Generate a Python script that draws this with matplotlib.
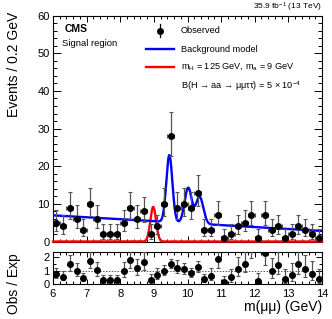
import math
import numpy as np
import matplotlib
matplotlib.use("Agg")
import matplotlib.pyplot as plt
from matplotlib.ticker import MultipleLocator

plt.rcParams["font.family"] = ["Liberation Sans", "DejaVu Sans"]
plt.rcParams["mathtext.default"] = "regular"

# ---------------- data ----------------
mass_lo, mass_hi, n_bins = 6.0, 14.0, 40
observed = [5, 4, 9, 6, 3, 10, 6, 2, 2, 2,
            5, 9, 6, 8, 2, 4, 10, 28, 9, 10,
            9, 13, 3, 3, 7, 1, 2, 4, 5, 7,
            1, 7, 3, 4, 1, 2, 4, 3, 2, 1]
ratio = [0.73, 0.55, 1.48, 0.98, 0.43, 1.75, 1.05, 0.30, 0.30, 0.30,
         0.98, 1.80, 1.18, 1.63, 0.33, 0.68, 1.00, 1.50, 1.23, 1.13,
         0.80, 1.28, 0.38, 0.60, 1.85, 0.18, 0.50, 1.13, 1.53, 3.10,
         0.25, 2.30, 0.98, 1.40, 0.35, 0.68, 1.48, 1.10, 0.75, 0.35]

# background model: linear continuum + three Upsilon peaks
continuum_at_lo, continuum_at_hi = 6.95, 2.8
ups_mass = [9.46, 10.02, 10.36]
ups_height = [17.8, 9.4, 7.2]
ups_sigma = [0.09, 0.105, 0.11]
# signal model
sig_mass, sig_height, sig_sigma = 8.98, 9.2, 0.085

# ---------------- helpers ----------------
def pois_cdf(n, mu):
    s, term = 0.0, math.exp(-mu)
    for k in range(n + 1):
        if k > 0:
            term *= mu / k
        s += term
    return s

def garwood(n, a=0.158655):
    def solve(f, lo, hi):
        for _ in range(80):
            mid = 0.5 * (lo + hi)
            if f(mid) > 0:
                lo = mid
            else:
                hi = mid
        return 0.5 * (lo + hi)
    up = solve(lambda mu: pois_cdf(n, mu) - a, n, n + 10 * math.sqrt(n + 1) + 10)
    lo = 0.0 if n == 0 else solve(lambda mu: a - (1 - pois_cdf(n - 1, mu)), 0.0, n)
    return lo, up

edges = np.linspace(mass_lo, mass_hi, n_bins + 1)
centers = 0.5 * (edges[1:] + edges[:-1])
halfw = 0.5 * (edges[1] - edges[0])
obs = np.array(observed, float)
lims = np.array([garwood(int(n)) for n in observed])
err_lo = obs - lims[:, 0]
err_hi = lims[:, 1] - obs

m = np.linspace(mass_lo, mass_hi, 1200)
bkg = continuum_at_lo + (continuum_at_hi - continuum_at_lo) * (m - mass_lo) / (mass_hi - mass_lo)
for mu0, h, s in zip(ups_mass, ups_height, ups_sigma):
    bkg = bkg + h * np.exp(-0.5 * ((m - mu0) / s) ** 2)
sig = sig_height * np.exp(-0.5 * ((m - sig_mass) / sig_sigma) ** 2)

# ---------------- figure ----------------
W, H = 332, 319
fig = plt.figure(figsize=(W / 100, H / 100), dpi=100)

def fx(px):
    return px / W

def fy(py):
    return 1 - py / H

ax = fig.add_axes([fx(53), fy(241.5), fx(322) - fx(53), fy(15.7) - fy(241.5)])
axr = fig.add_axes([fx(53), fy(284), fx(322) - fx(53), fy(252) - fy(284)])

ms = 4.0
ebar_color = "#555555"
ax.plot(m, sig, color="#ff0000", lw=1.7, zorder=3, clip_on=False)
ax.plot(m, bkg, color="#0000ff", lw=1.7, zorder=3)
ax.errorbar(centers, obs, yerr=[err_lo, err_hi], xerr=halfw, fmt="o", ms=ms,
            color="black", ecolor=ebar_color, elinewidth=0.9, capsize=1.2,
            capthick=0.8, zorder=4)
ax.set_xlim(mass_lo, mass_hi)
ax.set_ylim(0, 60)
ax.set_xticklabels([])
ax.xaxis.set_major_locator(MultipleLocator(1))
ax.xaxis.set_minor_locator(MultipleLocator(0.2))
ax.yaxis.set_major_locator(MultipleLocator(10))
ax.yaxis.set_minor_locator(MultipleLocator(2))
ax.tick_params(axis="both", which="both", direction="in", top=True, right=True,
               labelsize=8, width=0.7, pad=2.5)
ax.tick_params(axis="y", which="major", length=5.5)
ax.tick_params(axis="y", which="minor", length=2.8)
ax.tick_params(axis="x", which="major", length=4)
ax.tick_params(axis="x", which="minor", length=2.2)
for sp in ax.spines.values():
    sp.set_linewidth(0.8)
ax.set_ylabel("Events / 0.2 GeV", fontsize=10, loc="top")
ax.yaxis.set_label_coords(-0.12, 1.016)

# ratio panel
r = np.array(ratio)
r_lo = r * err_lo / obs
r_hi = r * err_hi / obs
axr.axhline(1, color="#555555", lw=0.7, ls=(0, (1.5, 1.5)), zorder=1)
axr.errorbar(centers, r, yerr=[r_lo, r_hi], fmt="o", ms=ms, color="black",
             ecolor=ebar_color, elinewidth=0.9, capsize=1.2, capthick=0.8, zorder=4)
axr.set_xlim(mass_lo, mass_hi)
axr.set_ylim(0, 2.4)
axr.xaxis.set_major_locator(MultipleLocator(1))
axr.xaxis.set_minor_locator(MultipleLocator(0.2))
axr.yaxis.set_major_locator(MultipleLocator(1))
axr.yaxis.set_minor_locator(MultipleLocator(0.5))
axr.tick_params(axis="both", which="both", direction="in", top=True, right=True,
                labelsize=8, width=0.7)
axr.tick_params(axis="y", which="major", length=4, pad=2.5)
axr.tick_params(axis="y", which="minor", length=2)
axr.tick_params(axis="x", which="major", length=3.5, pad=3.5)
axr.tick_params(axis="x", which="minor", length=2)
for sp in axr.spines.values():
    sp.set_linewidth(0.8)
axr.set_xlabel("m(\u03bc\u03bc) (GeV)", fontsize=10, loc="right", labelpad=1)
axr.set_ylabel("Obs / Exp", fontsize=10)
axr.yaxis.set_label_coords(-0.12, 0.0)

# texts
fig.text(fx(65), fy(29), "CMS", fontsize=7.5, fontweight="bold", va="center")
fig.text(fx(62), fy(44), "Signal region", fontsize=6.8, va="center")
fig.text(fx(322), fy(7), "35.9 fb$^{-1}$ (13 TeV)", fontsize=6, ha="right", va="center")

# legend (manual, ROOT-like)
tx = fx(181)
rows = [fy(30.7), fy(49), fy(67), fy(85.7)]
fig.text(tx, rows[0], "Observed", fontsize=6.6, va="center")
fig.text(tx, rows[1], "Background model", fontsize=6.6, va="center")
fig.text(tx, rows[2], "m$_{H}$ = 125 GeV, m$_{a}$ = 9 GeV", fontsize=6.6, va="center")
fig.text(tx, rows[3], "B(H \u2192 aa \u2192 \u03bc\u03bc\u03c4\u03c4) = 5 \u00d7 10$^{-4}$",
         fontsize=6.6, va="center")
fig.lines.append(plt.Line2D([fx(160), fx(160)], [fy(24), fy(37)], color="black",
                            lw=0.9, transform=fig.transFigure))
fig.lines.append(plt.Line2D([fx(160)], [rows[0]], marker="o", ms=ms, color="black",
                            transform=fig.transFigure))
fig.lines.append(plt.Line2D([fx(146), fx(174)], [rows[1], rows[1]], color="#0000ff",
                            lw=1.7, transform=fig.transFigure))
fig.lines.append(plt.Line2D([fx(146), fx(174)], [rows[2], rows[2]], color="#ff0000",
                            lw=1.7, transform=fig.transFigure))

fig.savefig("out.png", dpi=100)
